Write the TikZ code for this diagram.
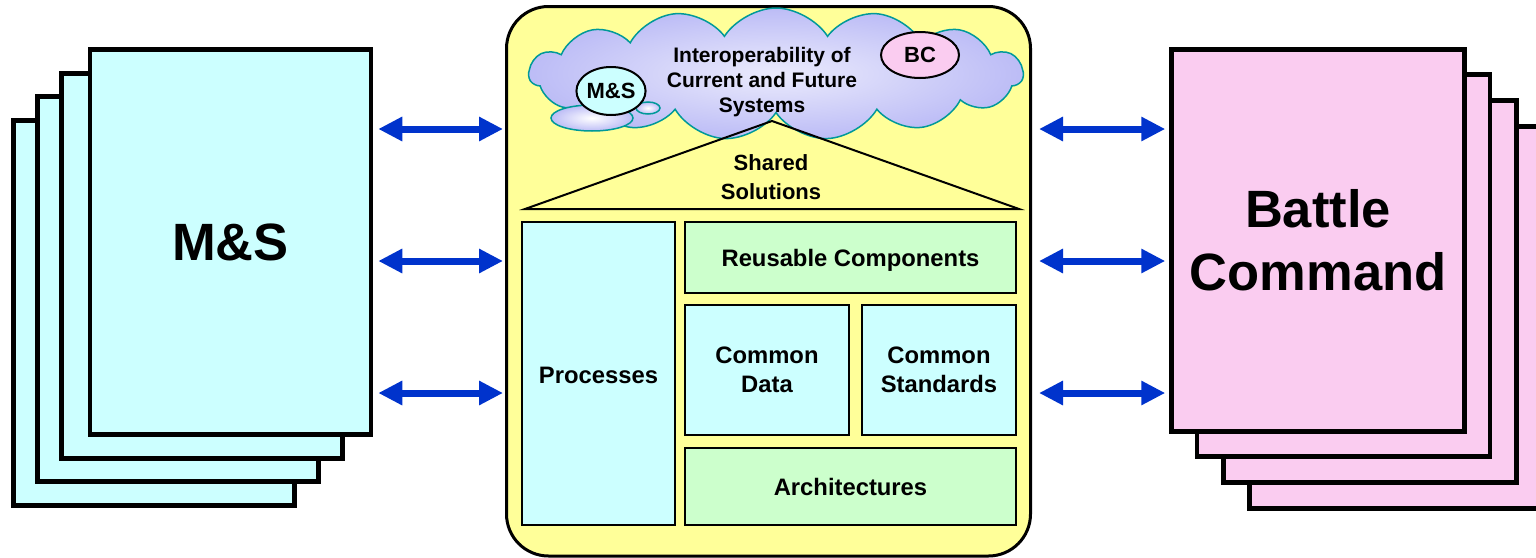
\documentclass[tikz,border=0pt]{standalone}
\usepackage{fontspec}
\setmainfont{Liberation Sans}
\usetikzlibrary{arrows.meta,shapes.symbols,shapes.geometric,positioning}

\definecolor{mscyan}{RGB}{204,255,255}
\definecolor{bcpink}{RGB}{250,204,240}
\definecolor{hubyellow}{RGB}{255,255,153}
\definecolor{partgreen}{RGB}{204,255,204}
\definecolor{linkblue}{RGB}{0,51,204}
\definecolor{cloudblue}{RGB}{188,188,246}
\definecolor{cloudline}{RGB}{0,153,153}

\tikzset{
  sheet/.style={draw, line width=4.5pt, inner sep=0pt, align=center,
    font=\fontsize{52.5}{63}\selectfont\bfseries},
  part/.style={draw, line width=2pt, fill=mscyan, align=center, inner sep=0pt,
    font=\fontsize{23.8}{29}\selectfont\bfseries},
  tag/.style={ellipse, draw, line width=2pt, inner sep=0pt,
    font=\fontsize{22}{26}\selectfont\bfseries},
  puff/.style={ellipse, draw=cloudline, line width=1.5pt, shade,
    inner color=white, outer color=cloudblue},
  biarrow/.style={draw=linkblue, line width=7pt,
    {Triangle[length=24pt,width=23pt]}-{Triangle[length=24pt,width=23pt]}}
}

\begin{document}
\begin{tikzpicture}[x=1pt,y=-1pt]
  \useasboundingbox (0,0) rectangle (1536,557);
  \clip (0,0) rectangle (1536,557);
  % M&S stack
  \foreach \n/\cx/\cy in {4/154/313, 3/178/289, 2/202/266}{
    \node[sheet, fill=mscyan, minimum width=281pt, minimum height=385pt] (ms\n) at (\cx,\cy) {};}
  \node[sheet, fill=mscyan, minimum width=281pt, minimum height=385pt] (ms1) at (230.5,242) {M\&S};
  % battle command stack
  \foreach \n/\cx/\cy in {4/1396/317.5, 3/1370/291.5, 2/1343.5/265.5}{
    \node[sheet, fill=bcpink, minimum width=293pt, minimum height=382pt] (bc\n) at (\cx,\cy) {};}
  \node[sheet, fill=bcpink, minimum width=293pt, minimum height=382pt] (bc1) at (1318,240.5) {Battle\\Command};
  % centre
  \node[draw, line width=3pt, fill=hubyellow, rounded corners=42pt,
    minimum width=524pt, minimum height=549.5pt] (hub) at (768.5,281.25) {};
  \node[cloud, cloud puffs=15, cloud puff arc=115, cloud ignores aspect,
    minimum width=494pt, minimum height=132pt, draw=cloudline, line width=1.5pt,
    shade, inner color=cloudblue!30, outer color=cloudblue] (cloud) at (776,74) {};
  \node[puff, minimum width=82pt, minimum height=26pt] (puffA) at (592,118) {};
  \node[puff, minimum width=24pt, minimum height=12pt] (puffB) at (648,108) {};
  \node[align=center, font=\fontsize{21}{25}\selectfont\bfseries] (iop) at (762,82)
    {Interoperability of\\Current and Future\\Systems};
  \node[tag, fill=mscyan, minimum width=68pt, minimum height=48pt] (msTag) at (611,91) {M\&S};
  \node[tag, fill=bcpink, minimum width=78pt, minimum height=46pt] (bcTag) at (920,55) {BC};
  \coordinate (L) at (525,209);
  \coordinate (T) at (772,121);
  \coordinate (R) at (1019,209);
  \draw[line width=2pt] (L) -- (T) -- (R) -- cycle;
  \node[align=center, font=\fontsize{22}{29}\selectfont\bfseries] (shared) at (771,177) {Shared\\Solutions};
  \node[part, minimum width=153pt, minimum height=303pt] (proc) at (598.5,373.5) {\raisebox{-2pt}[\height][\depth]{Processes}};
  \node[part, fill=partgreen, minimum width=331pt, minimum height=71pt] (reuse) at (850.5,257.5) {\raisebox{-3pt}[\height][\depth]{Reusable Components}};
  \node[part, minimum width=164pt, minimum height=130pt] (data) at (767,370) {Common\\Data};
  \node[part, minimum width=154pt, minimum height=130pt] (std) at (939,370) {Common\\Standards};
  \node[part, fill=partgreen, minimum width=331pt, minimum height=77pt] (arch) at (850.5,486.5) {Architectures};
  % links
  \foreach \y in {129,261,393}{
    \coordinate (lvl) at (0,\y);
    \draw[biarrow, shorten <=5pt, shorten >=2pt] (ms1.east |- lvl) -- (hub.west |- lvl);
    \draw[biarrow, shorten <=7pt, shorten >=4pt] (hub.east |- lvl) -- (bc1.west |- lvl);}
\end{tikzpicture}
\end{document}
